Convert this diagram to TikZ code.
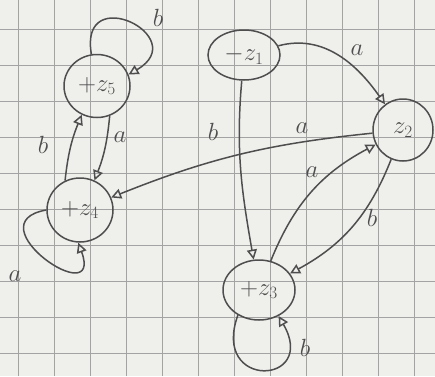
\documentclass[tikz,border=0pt]{standalone}
\usetikzlibrary{arrows.meta,shapes.geometric}
\definecolor{pencil}{HTML}{4E4E4E}
\definecolor{paper}{HTML}{EFEFEC}
\definecolor{gridc}{HTML}{A3A3A3}
\begin{document}
\begin{tikzpicture}[x=1pt,y=1pt,
  pen/.style={draw=pencil,line width=1.5pt},
  state/.style={ellipse,pen,inner sep=0pt,text=pencil,font=\fontsize{24}{26}\selectfont},
  arr/.style={pen,-{Triangle[open,length=10pt,width=10pt,line width=1.5pt]}},
  lbl/.style={text=pencil,font=\fontsize{28}{30}\selectfont,inner sep=0pt}]
\fill[paper] (0,0) rectangle (435,376);
\useasboundingbox (0,0) rectangle (435,376);
\foreach \x in {18,54,...,414} \draw[gridc,line width=1pt] (\x,0) -- (\x,376);
\foreach \y in {23,59,...,347} \draw[gridc,line width=1pt] (0,\y) -- (435,\y);

\node[state,minimum width=66pt,minimum height=63pt] (z5) at (97,290) {$+z_5$};
\node[state,minimum width=66pt,minimum height=64pt] (z4) at (80,166) {$+z_4$};
\node[state,minimum width=72pt,minimum height=50pt] (z1) at (244,321) {$-z_1$};
\node[state,minimum width=60pt,minimum height=62pt] (z2) at (403,246) {$z_2$};
\node[state,minimum width=72pt,minimum height=60pt] (z3) at (259,86) {$+z_3$};

\draw[arr] (z1) to[out=15,in=125] (z2);
\draw[arr] (z1) to[out=-95,in=100] (z3);
\draw[arr] (z2) to[bend right=8] (z4);
\draw[arr] (z3) to[bend left=20] (z2);
\draw[arr] (z2) to[bend left=20] (z3);
\draw[arr] (z5.-67) to[bend left=8] (z4.64);
\draw[arr] (z4.117) to[bend left=8] (z5.-118);
\draw[arr] (z5.100) to[out=100,in=30,distance=75pt] (z5.20);
\draw[arr] (z4.180) to[out=190,in=-70,distance=75pt] (z4.-93);
\draw[arr] (z3.-130) to[out=-110,in=-60,distance=80pt] (z3.-53);

\node[lbl] (l12) at (357,326) {$a$};
\node[lbl] (l13) at (213,244) {$b$};
\node[lbl] (l24) at (302,248) {$a$};
\node[lbl] (l32) at (312,204) {$a$};
\node[lbl] (l23) at (372,158) {$b$};
\node[lbl] (l54) at (120,239) {$a$};
\node[lbl] (l45) at (43,231) {$b$};
\node[lbl] (l55) at (158,358) {$b$};
\node[lbl] (l44) at (15,100) {$a$};
\node[lbl] (l33) at (305,28) {$b$};
\end{tikzpicture}
\end{document}
